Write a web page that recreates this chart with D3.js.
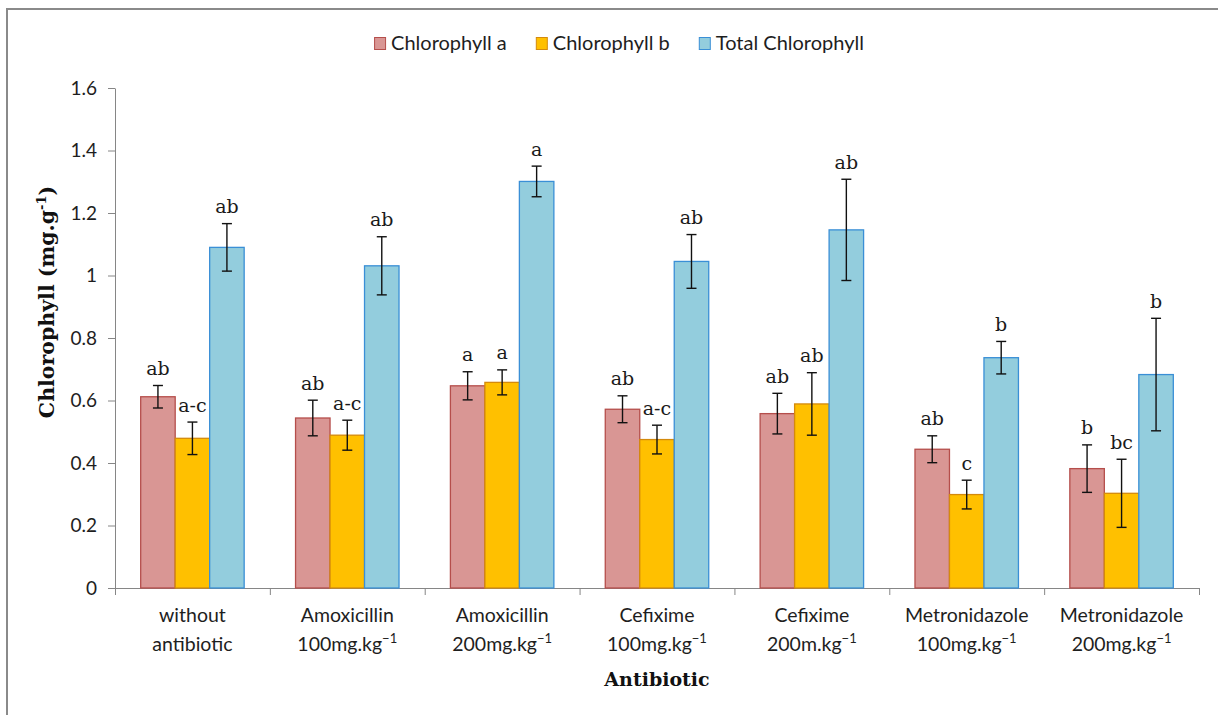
<!DOCTYPE html>
<html>
<head>
<meta charset="utf-8">
<script src="https://cdn.jsdelivr.net/npm/d3@7"></script>
<style>
  body { margin: 0; background: #fff; }
  svg { display: block; }
</style>
</head>
<body>
<svg id="chart" width="1218" height="715"></svg>
<script>
// category labels: first line, second line, superscript on second line
const categoryLine1 = ["without", "Amoxicillin", "Amoxicillin", "Cefixime", "Cefixime", "Metronidazole", "Metronidazole"];
const categoryLine2 = ["antibiotic", "100mg.kg", "200mg.kg", "100mg.kg", "200m.kg", "100mg.kg", "200mg.kg"];
const categorySup = ["", "\u22121", "\u22121", "\u22121", "\u22121", "\u22121", "\u22121"];

const seriesNames = ["Chlorophyll a", "Chlorophyll b", "Total Chlorophyll"];

const chlA = [0.612, 0.544, 0.647, 0.572, 0.558, 0.444, 0.382];
const chlAErr = [0.036, 0.057, 0.045, 0.043, 0.065, 0.043, 0.076];
const chlALetters = ["ab", "ab", "a", "ab", "ab", "ab", "b"];

const chlB = [0.479, 0.489, 0.658, 0.475, 0.589, 0.299, 0.303];
const chlBErr = [0.052, 0.048, 0.040, 0.046, 0.100, 0.046, 0.109];
const chlBLetters = ["a-c", "a-c", "a", "a-c", "ab", "c", "bc"];

const total = [1.090, 1.031, 1.301, 1.045, 1.146, 0.737, 0.683];
const totalErr = [0.076, 0.093, 0.049, 0.086, 0.162, 0.052, 0.180];
const totalLetters = ["ab", "ab", "a", "ab", "ab", "b", "b"];

const yTicks = [0, 0.2, 0.4, 0.6, 0.8, 1, 1.2, 1.4, 1.6];

const fills = ["#d99694", "#ffc000", "#93cddd"];
const strokes = ["#b54e4b", "#d48a0c", "#3a8fd6"];

let series = [
  { name: seriesNames[0], values: chlA, errors: chlAErr, letters: chlALetters },
  { name: seriesNames[1], values: chlB, errors: chlBErr, letters: chlBLetters },
  { name: seriesNames[2], values: total, errors: totalErr, letters: totalLetters }
];

let svg = d3.select('#chart');
let axisColor = '#868686';
let textColor = '#1e1e1e';
let sans = 'Lato, "Open Sans", sans-serif';
let serif = '"DejaVu Serif", serif';

let plotLeft = 115, plotRight = 1199, plotTop = 88, plotBottom = 588;

let x0 = d3.scaleBand()
  .domain(d3.range(categoryLine1.length))
  .range([plotLeft, plotRight])
  .padding(0);
let x1 = d3.scaleBand()
  .domain(d3.range(series.length))
  .range([0, x0.bandwidth()])
  .paddingInner(0)
  .paddingOuter(0.745);
let y = d3.scaleLinear().domain([0, 1.6]).range([plotBottom, plotTop]);

// chart frame
svg.append('rect')
  .attr('x', 7).attr('y', 9)
  .attr('width', 1300).attr('height', 800)
  .attr('fill', 'none')
  .attr('stroke', '#8a8a8a')
  .attr('stroke-width', 2);

// y axis
let yAxis = svg.append('g')
  .attr('transform', 'translate(' + plotLeft + ',0)')
  .call(d3.axisLeft(y).tickValues(yTicks).tickSize(7).tickSizeOuter(0).tickPadding(11).tickFormat(d3.format('')));
yAxis.select('.domain').attr('stroke', axisColor);
yAxis.selectAll('.tick line').attr('stroke', axisColor);
yAxis.selectAll('.tick text')
  .attr('fill', textColor)
  .style('font-family', sans)
  .style('font-size', '19px');

// x axis: ticks sit on category boundaries
let xb = d3.scaleLinear().domain([0, categoryLine1.length]).range([plotLeft, plotRight]);
let xAxis = svg.append('g')
  .attr('transform', 'translate(0,' + plotBottom + ')')
  .call(d3.axisBottom(xb).tickValues(d3.range(categoryLine1.length + 1)).tickSize(7).tickSizeOuter(0).tickFormat(''));
xAxis.select('.domain').attr('stroke', axisColor);
xAxis.selectAll('.tick line').attr('stroke', axisColor);

let catLabels = svg.append('g')
  .selectAll('text')
  .data(d3.range(categoryLine1.length))
  .enter()
    .append('text')
      .attr('text-anchor', 'middle')
      .attr('fill', textColor)
      .style('font-family', sans)
      .style('font-size', '19.5px');
catLabels.append('tspan')
  .attr('x', (i) => x0(i) + x0.bandwidth() / 2)
  .attr('y', 622)
  .text((i) => categoryLine1[i]);
let line2 = catLabels.append('tspan')
  .attr('x', (i) => x0(i) + x0.bandwidth() / 2)
  .attr('y', 651);
line2.append('tspan').text((i) => categoryLine2[i]);
line2.append('tspan')
  .attr('dy', -8)
  .style('font-size', '13px')
  .text((i) => categorySup[i]);

// bars
let groups = svg.append('g')
  .selectAll('g')
  .data(d3.range(categoryLine1.length))
  .enter()
    .append('g')
      .attr('transform', (i) => 'translate(' + x0(i) + ',0)');

series.forEach((s, si) => {
  groups.append('rect')
    .attr('x', x1(si))
    .attr('y', (i) => y(s.values[i]))
    .attr('width', x1.bandwidth())
    .attr('height', (i) => plotBottom - y(s.values[i]))
    .attr('fill', fills[si])
    .attr('stroke', strokes[si])
    .attr('stroke-width', 1.3);
});

// error bars and letters
series.forEach((s, si) => {
  let cx = x1(si) + x1.bandwidth() / 2;
  let eb = groups.append('g').attr('stroke', '#111').attr('stroke-width', 1.4);
  eb.append('line')
    .attr('x1', cx).attr('x2', cx)
    .attr('y1', (i) => y(s.values[i] + s.errors[i]))
    .attr('y2', (i) => y(s.values[i] - s.errors[i]));
  eb.append('line')
    .attr('x1', cx - 5).attr('x2', cx + 5)
    .attr('y1', (i) => y(s.values[i] + s.errors[i]))
    .attr('y2', (i) => y(s.values[i] + s.errors[i]));
  eb.append('line')
    .attr('x1', cx - 5).attr('x2', cx + 5)
    .attr('y1', (i) => y(s.values[i] - s.errors[i]))
    .attr('y2', (i) => y(s.values[i] - s.errors[i]));
  groups.append('text')
    .attr('x', cx)
    .attr('y', (i) => y(s.values[i] + s.errors[i]) - 10.5)
    .attr('text-anchor', 'middle')
    .attr('fill', '#1a1a1a')
    .style('font-family', serif)
    .style('font-size', '19px')
    .text((i) => s.letters[i]);
});

// axis titles
svg.append('text')
  .attr('x', (plotLeft + plotRight) / 2)
  .attr('y', 686)
  .attr('text-anchor', 'middle')
  .attr('fill', '#111')
  .style('font-family', serif)
  .style('font-weight', 'bold')
  .style('font-size', '19px')
  .text('Antibiotic');

let yTitle = svg.append('text')
  .attr('transform', 'translate(54,302) rotate(-90)')
  .attr('text-anchor', 'middle')
  .attr('fill', '#111')
  .style('font-family', serif)
  .style('font-weight', 'bold')
  .style('font-size', '20.5px');
yTitle.append('tspan').text('Chlorophyll (mg.g');
yTitle.append('tspan').attr('dy', -8).style('font-size', '13px').text('-1');
yTitle.append('tspan').attr('dy', 8).text(')');

// legend
let legend = svg.append('g');
let lx = 0;
series.forEach((s, si) => {
  let item = legend.append('g').attr('transform', 'translate(' + lx + ',0)');
  item.append('rect')
    .attr('x', 0.5).attr('y', 37.5)
    .attr('width', 11).attr('height', 12)
    .attr('fill', fills[si])
    .attr('stroke', strokes[si]);
  let t = item.append('text')
    .attr('x', 17)
    .attr('y', 50)
    .attr('fill', textColor)
    .style('font-family', sans)
    .style('font-size', '20px')
    .text(s.name);
  lx += 17 + t.node().getComputedTextLength() + 29;
});
let legendWidth = lx - 29;
legend.attr('transform', 'translate(' + (619 - legendWidth / 2) + ',0)');
</script>
</body>
</html>
